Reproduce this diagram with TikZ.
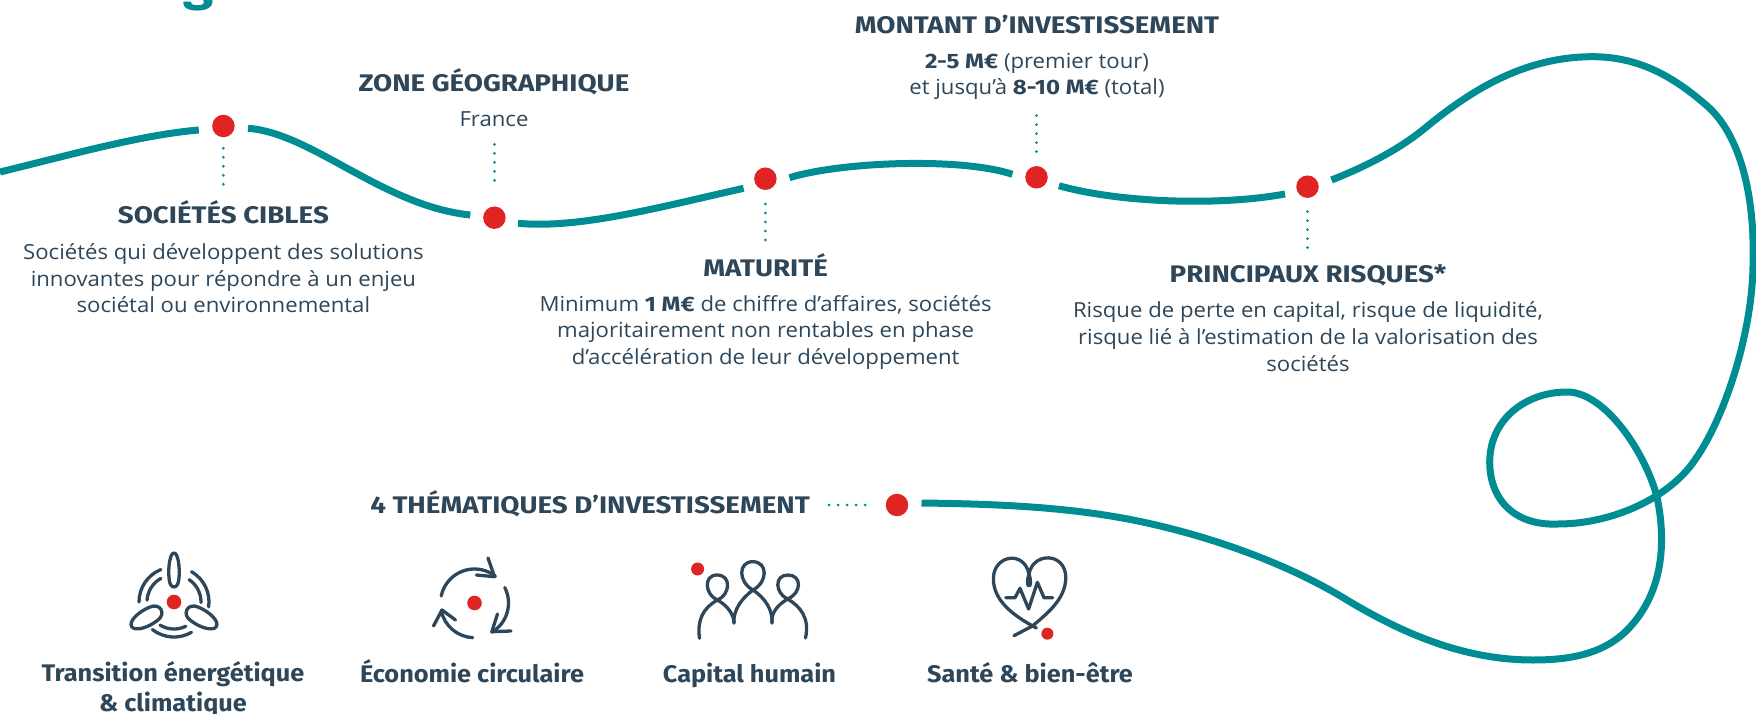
\documentclass[tikz,border=0pt]{standalone}
\usepackage{fontspec}
\setmainfont{Open Sans}[FakeStretch=1.065]
\newfontfamily\hd{Fira Sans}[UprightFont=* Bold,BoldFont=* Bold,FakeStretch=1.155]
\newfontfamily\hl{Fira Sans}[UprightFont=* Bold,BoldFont=* Bold,FakeStretch=1.055]
\definecolor{teal0}{HTML}{008C93}
\definecolor{ink}{HTML}{2D4659}
\definecolor{red0}{HTML}{E02424}
\tikzset{
  curve/.style={draw=teal0,line width=7pt},
  reddot/.style={circle,fill=red0,inner sep=0pt,minimum size=22.5pt},
  dotline/.style={draw=teal0,line width=3pt,line cap=round,dash pattern=on 0pt off 9pt},
  head/.style={text=ink,anchor=base,inner sep=0pt,font=\hd\fontsize{24}{28}\selectfont},
  body/.style={text=ink,anchor=base,inner sep=0pt,align=center,font=\fontsize{20.8}{26.7}\selectfont},
  thema/.style={text=ink,anchor=base,inner sep=0pt,align=center,font=\hl\fontsize{24}{29.7}\selectfont},
  icon/.style={draw=ink,line width=3.3pt,line cap=round,line join=round},
  iconred/.style={circle,fill=red0,inner sep=0pt},
}
\begin{document}
\begin{tikzpicture}[x=1pt,y=-1pt]
\useasboundingbox (0,0) rectangle (1756,714);
% cropped title
\node[text=teal0,anchor=base,inner sep=0pt,font=\hl\fontsize{52}{60}\selectfont] (titleg) at (199,0) {g};
% nodes on the line
\node[reddot] (d1) at (223.4,126) {};
\node[reddot] (d2) at (494.4,217.7) {};
\node[reddot] (d3) at (765.4,178.7) {};
\node[reddot] (d4) at (1036.5,177.3) {};
\node[reddot] (d5) at (1307.5,186.7) {};
\node[reddot] (d6) at (897,505) {};
% curve
\draw[curve] (0,172) .. controls (70,155) and (140,135) .. (198.8,130);
\draw[curve] (248,128.3) .. controls (312,133) and (383,206) .. (470.3,215);
\draw[curve] (518,223.3) .. controls (580,229) and (660,207) .. (743.6,188.3);
\draw[curve] (789.5,177.7) .. controls (840,162) and (960,157) .. (1012.4,174.3);
\draw[curve] (1058.9,185.7) .. controls (1120,203) and (1220,206) .. (1285,194);
\draw[curve] (1331.5,180) .. controls (1362,168) and (1395,152) .. (1422.7,130)
  .. controls (1465,95) and (1520,56.7) .. (1592.7,56.7)
  .. controls (1640,56.7) and (1675,78) .. (1706,105)
  .. controls (1738,132) and (1755,190) .. (1753,263)
  .. controls (1753,330) and (1725,420) .. (1692,464)
  .. controls (1665,500) and (1610,524) .. (1558,524)
  .. controls (1515,526) and (1489.7,500) .. (1489.7,462)
  .. controls (1489.7,420) and (1525,392) .. (1567,392)
  .. controls (1605,392) and (1645,452) .. (1657,497)
  .. controls (1668,550) and (1660,600) .. (1623,634)
  .. controls (1600,654) and (1570,660) .. (1533,660)
  .. controls (1470,660) and (1410,638) .. (1347,600)
  .. controls (1290,565) and (1220,540) .. (1156,525)
  .. controls (1080,507) and (1000,504) .. (921.5,503);
% dotted connectors
\coordinate (c1) at (223.4,148.3); \coordinate (t1) at (223.4,186);
\coordinate (c2) at (494.4,180.4); \coordinate (t2) at (494.4,143.3);
\coordinate (c3) at (765.4,204); \coordinate (t3) at (765.4,241);
\coordinate (c4) at (1036.5,151.7); \coordinate (t4) at (1036.5,115);
\coordinate (c5) at (1307.5,211.7); \coordinate (t5) at (1307.5,249);
\coordinate (c6) at (865,505); \coordinate (t6) at (827,505);
\foreach \a/\b in {c1/t1,c2/t2,c3/t3,c4/t4,c5/t5,c6/t6}{\draw[dotline] (\a) -- (\b);}
% texts
\node[head] (h1) at (223.4,224) {SOCIÉTÉS CIBLES};
\node[body] (b1) at (223.4,312.7) {Sociétés qui développent des solutions\\innovantes pour répondre à un enjeu\\sociétal ou environnemental};
\node[head] (h2) at (494,91.7) {ZONE GÉOGRAPHIQUE};
\node[body] (b2) at (494,126.7) {France};
\node[head] (h3) at (765.6,276) {MATURITÉ};
\node[body] (b3) at (765.6,364.4) {Minimum {\hd 1 M€} de chiffre d’affaires, sociétés\\majoritairement non rentables en phase\\d’accélération de leur développement};
\node[head] (h4) at (1037,33.7) {MONTANT D’INVESTISSEMENT};
\node[body] (b4) at (1037,95) {{\hd 2-5 M€} (premier tour)\\et jusqu’à {\hd 8-10 M€} (total)};
\node[head] (h5) at (1308,282.7) {PRINCIPAUX RISQUES*};
\node[body] (b5) at (1308,371) {Risque de perte en capital, risque de liquidité,\\risque lié à l’estimation de la valorisation des\\sociétés};
\node[head] (h6) at (590,513) {4 THÉMATIQUES D’INVESTISSEMENT};
\node[thema] (l1) at (173,711.5) {Transition énergétique\\\& climatique};
\node[thema] (l2) at (472,682) {Économie circulaire};
\node[thema] (l3) at (749.5,682) {Capital humain};
\node[thema] (l4) at (1030,682) {Santé \& bien-être};
% icon 1
\node[iconred,minimum size=14.6pt] (i1) at (174,602) {};
\begin{scope}[shift={(174pt,-602pt)},x=1pt,y=1pt]
\foreach \r/\w in {0/1,120/1.55,240/1.55}{
 \begin{scope}[rotate=\r]
 \begin{scope}[xscale=\w]
 \draw[icon] (0,49) .. controls (-4,49) and (-6,35) .. (-5,24) .. controls (-4.5,12) and (4.5,12) .. (5,24) .. controls (6,35) and (4,49) .. (0,49);
 \end{scope}
 \draw[icon] (112:35) arc[start angle=112,end angle=180,radius=35];
 \draw[icon] (119:27) arc[start angle=119,end angle=176,radius=27];
 \end{scope}}
\end{scope}
% icon 2
\node[iconred,minimum size=14.6pt] (i2) at (474.5,603) {};
\begin{scope}[shift={(474.5pt,-603pt)},x=1pt,y=1pt]
\draw[icon] (168:34) arc[start angle=168,end angle=52,radius=34];
\draw[icon] (13.5,45) -- (20,26.3) -- (1.9,28);
\draw[icon] (27:34) arc[start angle=27,end angle=-59,radius=34];
\draw[icon] (23,-11) -- (17.3,-28.7) -- (36.4,-28);
\draw[icon] (267:34.7) arc[start angle=267,end angle=192,radius=34];
\draw[icon] (-19,-17) -- (-32.5,-7) -- (-41,-23);
\end{scope}
% icon 3
\node[iconred,minimum size=13pt] (i3) at (697.6,569) {};
\draw[icon] (699.5,638.3) .. controls (697,620) and (703,608) .. (717.5,600) .. controls (705,595) and (703,575) .. (717,575) .. controls (732,575) and (730,595) .. (717.5,600) .. controls (728,606) and (734,615) .. (734,623);
\draw[icon] (734,623) .. controls (733,610) and (742,598) .. (753,590) .. controls (738,582) and (738,561.7) .. (752.7,561.7) .. controls (768,561.7) and (768,582) .. (753,590) .. controls (765,598) and (773,610) .. (772,623);
\draw[icon] (772,623) .. controls (771,612) and (778,605) .. (787.5,599) .. controls (775,593) and (774,575) .. (788,575) .. controls (802,575) and (802,593) .. (787.5,599) .. controls (800,606) and (810,618) .. (805.5,638);
% icon 4
\node[iconred,minimum size=12pt] (i4) at (1047.4,633.7) {};
\draw[icon] (1036.3,628) .. controls (1012,615) and (993,600) .. (993.4,578) .. controls (994,555) and (1024,550) .. (1029,574) .. controls (1031,580) and (1031,586) .. (1029,586) .. controls (1027,586) and (1027,580) .. (1029,574) .. controls (1033,552) and (1065,552) .. (1065.8,577) .. controls (1066,600) and (1045,615) .. (1032.5,626) -- (1014,635.7);
\draw[icon] (1005.7,597.7) -- (1015,597.7) -- (1020,588.3) -- (1028.6,609) -- (1037.4,582.3) -- (1044,597.7) -- (1052.7,597.7);
\end{tikzpicture}
\end{document}
